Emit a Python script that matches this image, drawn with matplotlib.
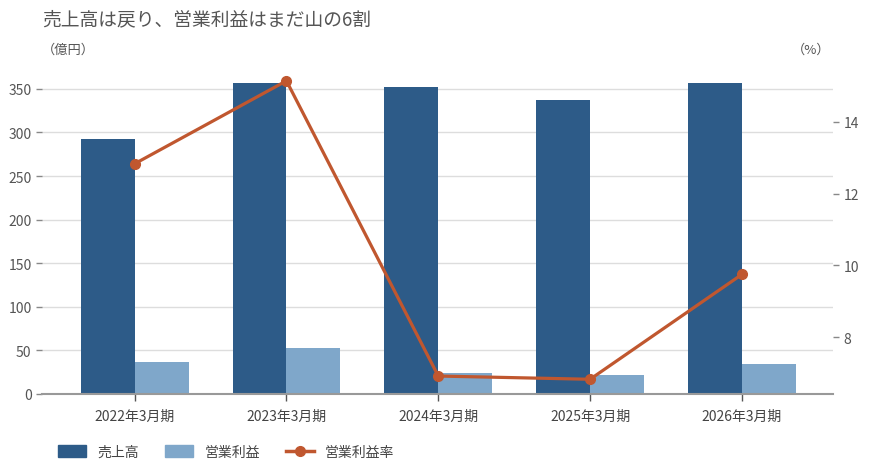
import matplotlib
matplotlib.use("Agg")
import matplotlib.pyplot as plt
import numpy as np
from matplotlib.patches import Patch
from matplotlib.lines import Line2D

plt.rcParams['font.family'] = ['Noto Sans CJK JP', 'DejaVu Sans']

categories = ["2022年3月期", "2023年3月期", "2024年3月期", "2025年3月期", "2026年3月期"]
sales = [292.7, 357.0, 352.5, 337.5, 357.0]
op_profit = [36.7, 52.8, 24.0, 21.8, 34.4]
op_margin = [12.83, 15.14, 6.92, 6.83, 9.75]

c_sales = "#2D5B88"
c_op = "#7FA7CA"
c_line = "#C0572F"
c_text = "#555555"
c_grid = "#DDDDDD"

fig = plt.figure(figsize=(8.7, 4.77), dpi=100)
ax = fig.add_axes([42/870, 1-395/477, (833-42)/870, (395-75)/477])
ax2 = ax.twinx()

x = np.arange(len(categories))
w = 0.355
ax.bar(x - w/2, sales, width=w, color=c_sales, zorder=2)
ax.bar(x + w/2, op_profit, width=w, color=c_op, zorder=2)

ax.set_xlim(-0.61, 4.6)
ax.set_ylim(0, 367)
ax.set_yticks(range(0, 351, 50))
ax.grid(axis='y', color=c_grid, linewidth=1, zorder=0)
ax.set_axisbelow(True)
ax.set_xticks(x)
ax.set_xticklabels(categories)

ax2.plot(x, op_margin, color=c_line, linewidth=2.3, marker='o', markersize=7, zorder=5)
ax2.set_ylim(6.42, 15.33)
ax2.set_yticks([8, 10, 12, 14])

for a in (ax, ax2):
    for s in ('top', 'left', 'right', 'bottom'):
        a.spines[s].set_visible(False)
    a.tick_params(axis='y', colors='#888888', labelcolor=c_text, labelsize=10, length=4, width=1)
ax.spines['bottom'].set_visible(True)
ax.spines['bottom'].set_color('#999999')
ax.spines['bottom'].set_linewidth(1.5)
ax.tick_params(axis='x', colors='#555555', labelcolor='#444444', labelsize=10, length=5, width=1, pad=6)
ax.set_zorder(ax2.get_zorder() - 1)
ax.patch.set_visible(False)
ax2.patch.set_visible(False)

fig.text(42/870, 1-20/477, "売上高は戻り、営業利益はまだ山の6割", fontsize=13.5, color=c_text, va='center', ha='left')
fig.text(42/870, 1-50/477, "（億円）", fontsize=9.5, color=c_text, va='center', ha='left')
fig.text(830/870, 1-50/477, "（%）", fontsize=9.5, color=c_text, va='center', ha='right')

handles = [Patch(color=c_sales), Patch(color=c_op),
           Line2D([0], [0], color=c_line, linewidth=2.5, marker='o', markersize=7)]
labels = ["売上高", "営業利益", "営業利益率"]
fig.legend(handles, labels, loc='center left', bbox_to_anchor=(46/870, 1-453/477), ncol=3,
           frameon=False, fontsize=10, labelcolor='#444444', handlelength=2.0, handleheight=0.9,
           columnspacing=1.9, handletextpad=0.8)

fig.savefig("out.png", dpi=100)
